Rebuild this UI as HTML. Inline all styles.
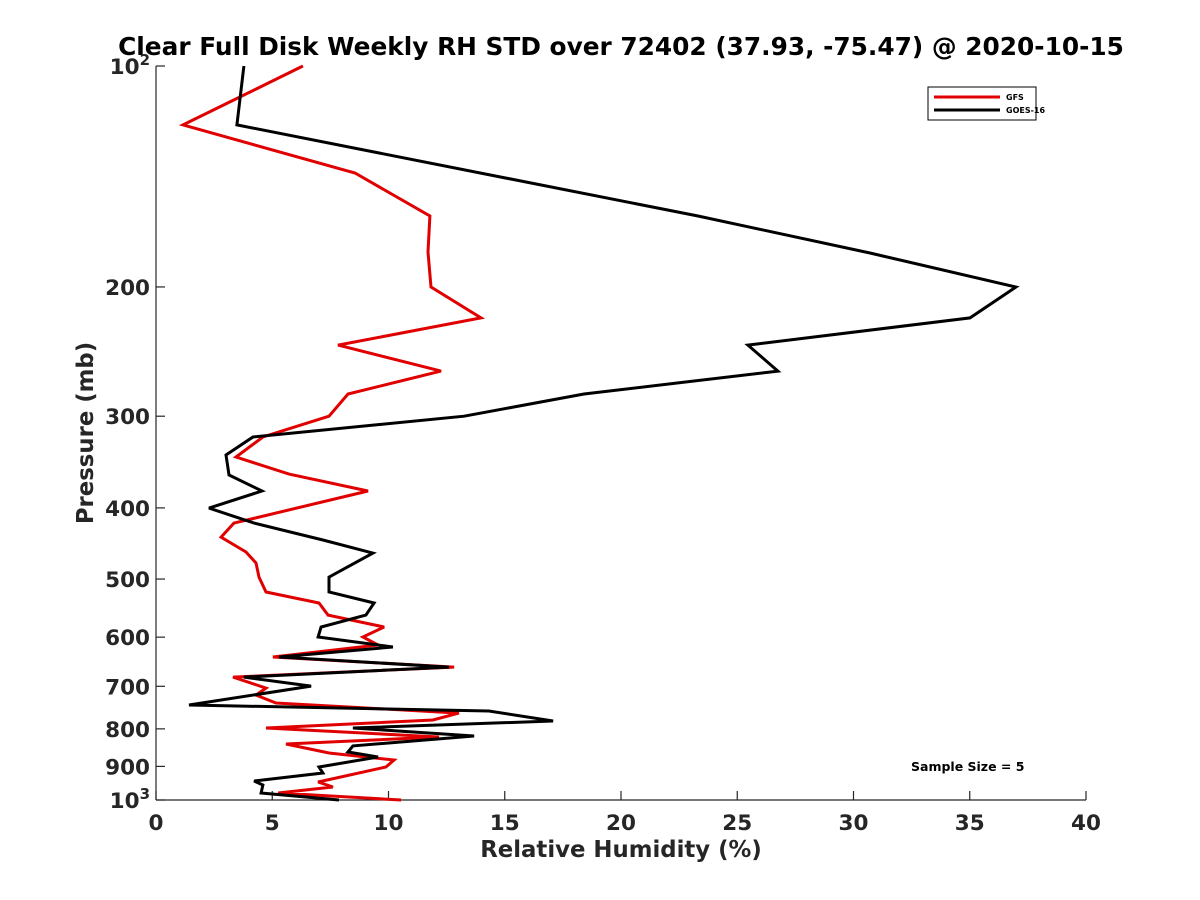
<!DOCTYPE html>
<html><head><meta charset="utf-8"><style>
body{margin:0;background:#fff}
svg{display:block;font-family:"DejaVu Sans","Liberation Sans",sans-serif}
</style></head><body>
<svg id="chart" width="1200" height="900">
<rect width="1200" height="900" fill="#fff"/>
<text x="621" y="55" text-anchor="middle" font-size="24.8" font-weight="bold" fill="#000">Clear Full Disk Weekly RH STD over 72402 (37.93, -75.47) @ 2020-10-15</text>
<g id="axes"></g>
<g id="series"></g>
<g>
<rect x="928" y="87" width="108" height="33" fill="#fff" stroke="#000" stroke-width="1"/>
<line x1="934" y1="97" x2="1000" y2="97" stroke="#e00000" stroke-width="3"/>
<text x="1006" y="100" font-size="8" font-weight="bold">GFS</text>
<line x1="934" y1="110" x2="1000" y2="110" stroke="#000" stroke-width="3"/>
<text x="1006" y="113" font-size="8" font-weight="bold">GOES-16</text>
</g>
<text x="911" y="771" font-size="12.5" font-weight="bold">Sample Size = 5</text>
<text x="621" y="857" text-anchor="middle" font-size="22.8" font-weight="bold" fill="#262626">Relative Humidity (%)</text>
<text transform="translate(93,433) rotate(-90)" text-anchor="middle" font-size="22.8" font-weight="bold" fill="#262626">Pressure (mb)</text>
</svg>
<script>
const xTicks=[0,5,10,15,20,25,30,35,40];
const yTicks=[100,200,300,400,500,600,700,800,900,1000];
const yTickLabels=["10|2","200","300","400","500","600","700","800","900","10|3"];
const goesP=[100,120.3,160.1,179.8,200,220.4,240,260.4,279.8,300,320.2,338.8,360.8,379.3,400.2,419.5,442.4,460.9,496.9,520.8,539,559.8,581.2,599.7,618.9,638.6,659,680,699.5,742.4,756.4,780.5,797.8,818,844,860.3,873.9,901.6,918.8,942.1,954,978.3,1000];
const goesV=[3.78,3.48,23.31,30.71,36.99,35.01,25.46,26.75,18.41,13.25,4.17,3.01,3.14,4.56,2.28,4.22,7.18,9.33,7.44,7.44,9.38,9.03,7.10,6.97,10.19,5.29,12.6,3.78,6.67,1.42,14.32,17.08,8.47,13.68,8.47,8.26,9.55,7.01,7.18,4.22,4.6,4.52,7.87];
const gfsP=[100,120.3,139.9,160.1,179.2,200,220.4,240,260.4,279.8,300,320.2,341,359.7,379.3,419.5,438.3,459.4,475.4,496.9,520.8,539,559.8,581.2,599.7,615,638.6,659,680,703.9,719.5,737.7,761.3,778,797.8,820.6,838.8,863,882.2,901.6,945.2,960,978.3,1000];
const gfsV=[6.32,1.16,8.56,11.78,11.70,11.83,13.98,7.83,12.26,8.26,7.44,4.60,3.44,5.72,9.12,3.35,2.80,3.87,4.30,4.43,4.73,7.01,7.40,9.81,8.90,9.55,5.03,12.82,3.31,4.73,4.30,5.16,13.03,11.91,4.73,12.17,5.59,7.44,10.24,9.89,6.97,7.61,5.25,10.54];
const X0=156,X1=1086,Y0=66,Y1=800;
const xs=v=>X0+(v/40)*(X1-X0);
const ys=p=>Y0+Math.log10(p/100)*(Y1-Y0);
const NS="http://www.w3.org/2000/svg";
function mk(t,a,parent){const e=document.createElementNS(NS,t);for(const k in a)e.setAttribute(k,a[k]);parent.appendChild(e);return e;}
const ax=document.getElementById('axes');
const yl=mk('line',{x1:X0,y1:Y0,x2:X0,y2:Y1,stroke:'#262626','stroke-width':1.2},ax);


const xl=mk('line',{x1:X0,y1:Y1,x2:X1,y2:Y1,stroke:'#262626','stroke-width':1.2},ax);


xTicks.forEach(v=>{
 const t=mk('line',{x1:xs(v),y1:Y1,x2:xs(v),y2:Y1-9,stroke:'#262626','stroke-width':1.2},ax);
 
 
 const l=mk('text',{x:xs(v),y:Y1+30,'text-anchor':'middle','font-size':21.5,'font-weight':'bold',fill:'#262626'},ax);
 l.textContent=v;
 
 
});
yTicks.forEach((p,i)=>{
 const t=mk('line',{x1:X0,y1:ys(p),x2:X0+9,y2:ys(p),stroke:'#262626','stroke-width':1.2},ax);
 
 
 const lab=yTickLabels[i];
 const l=mk('text',{x:X0-6,y:ys(p)+8,'text-anchor':'end','font-size':21.5,'font-weight':'bold',fill:'#262626'},ax);
 if(lab.includes('|')){
  const [b,e]=lab.split('|');
  const t1=mk('tspan',{},l); t1.textContent=b;
  const t2=mk('tspan',{dy:-9,'font-size':15},l); t2.textContent=e;
 } else l.textContent=lab;
 
 
});
const sg=document.getElementById('series');
function line(P,V,color,name){
 const d=P.map((p,i)=>(i?'L':'M')+xs(V[i]).toFixed(1)+' '+ys(p).toFixed(1)).join(' ');
 const e=mk('path',{d:d,fill:'none',stroke:color,'stroke-width':3,'stroke-linejoin':'miter','stroke-miterlimit':3},sg);
 
 
}
line(gfsP,gfsV,'#e00000','gfs-line');
line(goesP,goesV,'#000','goes16-line');
</script>
</body></html>
